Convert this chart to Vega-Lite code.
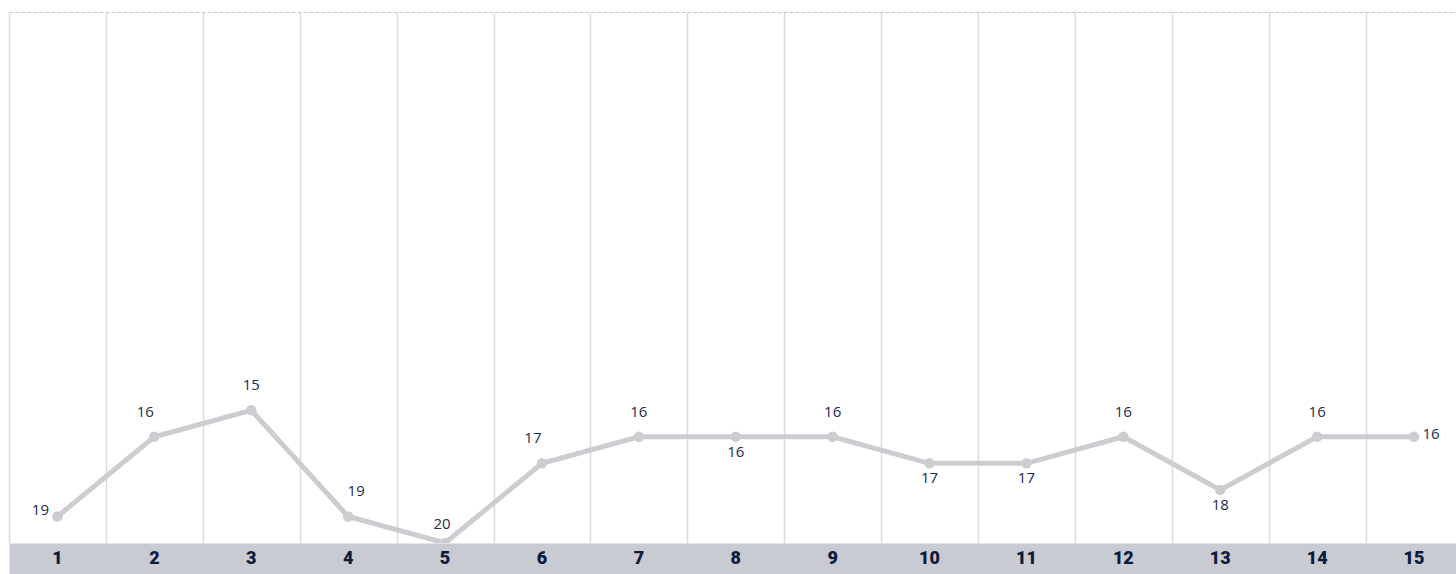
{
  "$schema": "https://vega.github.io/schema/vega-lite/v6.json",
  "width": 1447,
  "height": 531,
  "autosize": {"type": "none"},
  "padding": {"left": 9, "top": 12, "right": 0, "bottom": 31},
  "background": "white",
  "config": {"view": {"stroke": null}},
  "data": {
    "values": [
      {"round": "1", "rank": 19, "pos": "left"},
      {"round": "2", "rank": 16, "pos": "aboveL"},
      {"round": "3", "rank": 15, "pos": "above"},
      {"round": "4", "rank": 19, "pos": "aboveR"},
      {"round": "5", "rank": 20, "pos": "low"},
      {"round": "6", "rank": 17, "pos": "aboveL"},
      {"round": "7", "rank": 16, "pos": "above"},
      {"round": "8", "rank": 16, "pos": "below"},
      {"round": "9", "rank": 16, "pos": "above"},
      {"round": "10", "rank": 17, "pos": "below"},
      {"round": "11", "rank": 17, "pos": "below"},
      {"round": "12", "rank": 16, "pos": "above"},
      {"round": "13", "rank": 18, "pos": "below"},
      {"round": "14", "rank": 16, "pos": "above"},
      {"round": "15", "rank": 16, "pos": "right"}
    ]
  },
  "encoding": {
    "x": {
      "field": "round",
      "type": "ordinal",
      "sort": null,
      "scale": {"range": [0, 1453.5], "paddingInner": 0, "paddingOuter": 0},
      "axis": {
        "title": null,
        "grid": true,
        "gridColor": "#dcdcdc",
        "gridWidth": 1.5,
        "tickBand": "extent",
        "domain": true,
        "domainColor": "#c8cbd1",
        "domainWidth": 31,
        "domainCap": "butt",
        "offset": 15.5,
        "ticks": false,
        "labels": false
      }
    },
    "y": {
      "field": "rank",
      "type": "quantitative",
      "scale": {"domain": [0, 20], "reverse": true, "nice": false, "zero": false},
      "axis": {
        "values": [0],
        "grid": true,
        "gridColor": "#c6c6c6",
        "gridDash": [4, 2],
        "gridWidth": 1,
        "domain": false,
        "ticks": false,
        "labels": false,
        "title": null
      }
    }
  },
  "layer": [
    {
      "mark": {
        "type": "line",
        "color": "#cbcdd1",
        "strokeWidth": 5,
        "clip": true,
        "point": {"filled": true, "size": 110, "color": "#cbcdd1", "opacity": 1}
      }
    },
    {
      "mark": {"type": "text", "baseline": "middle", "font": "Roboto", "fontWeight": 900, "fontSize": 18, "color": "#0d1b3e"},
      "encoding": {
        "y": {"datum": 20.62},
        "text": {"field": "round", "type": "nominal"}
      }
    },
    {
      "transform": [{"filter": "datum.pos === 'above'"}],
      "mark": {"type": "text", "dy": -25, "baseline": "middle", "font": "Open Sans", "fontSize": 15, "color": "#1c2b52"},
      "encoding": {"text": {"field": "rank", "type": "quantitative"}}
    },
    {
      "transform": [{"filter": "datum.pos === 'aboveL'"}],
      "mark": {"type": "text", "dy": -25, "dx": -9, "baseline": "middle", "font": "Open Sans", "fontSize": 15, "color": "#1c2b52"},
      "encoding": {"text": {"field": "rank", "type": "quantitative"}}
    },
    {
      "transform": [{"filter": "datum.pos === 'aboveR'"}],
      "mark": {"type": "text", "dy": -25, "dx": 8, "baseline": "middle", "font": "Open Sans", "fontSize": 15, "color": "#1c2b52"},
      "encoding": {"text": {"field": "rank", "type": "quantitative"}}
    },
    {
      "transform": [{"filter": "datum.pos === 'low'"}],
      "mark": {"type": "text", "dy": -19, "dx": -3, "baseline": "middle", "font": "Open Sans", "fontSize": 15, "color": "#1c2b52"},
      "encoding": {"text": {"field": "rank", "type": "quantitative"}}
    },
    {
      "transform": [{"filter": "datum.pos === 'below'"}],
      "mark": {"type": "text", "dy": 15, "baseline": "middle", "font": "Open Sans", "fontSize": 15, "color": "#1c2b52"},
      "encoding": {"text": {"field": "rank", "type": "quantitative"}}
    },
    {
      "transform": [{"filter": "datum.pos === 'left'"}],
      "mark": {"type": "text", "dy": -6, "dx": -17, "baseline": "middle", "font": "Open Sans", "fontSize": 15, "color": "#1c2b52"},
      "encoding": {"text": {"field": "rank", "type": "quantitative"}}
    },
    {
      "transform": [{"filter": "datum.pos === 'right'"}],
      "mark": {"type": "text", "dy": -3, "dx": 17, "baseline": "middle", "font": "Open Sans", "fontSize": 15, "color": "#1c2b52"},
      "encoding": {"text": {"field": "rank", "type": "quantitative"}}
    }
  ]
}
